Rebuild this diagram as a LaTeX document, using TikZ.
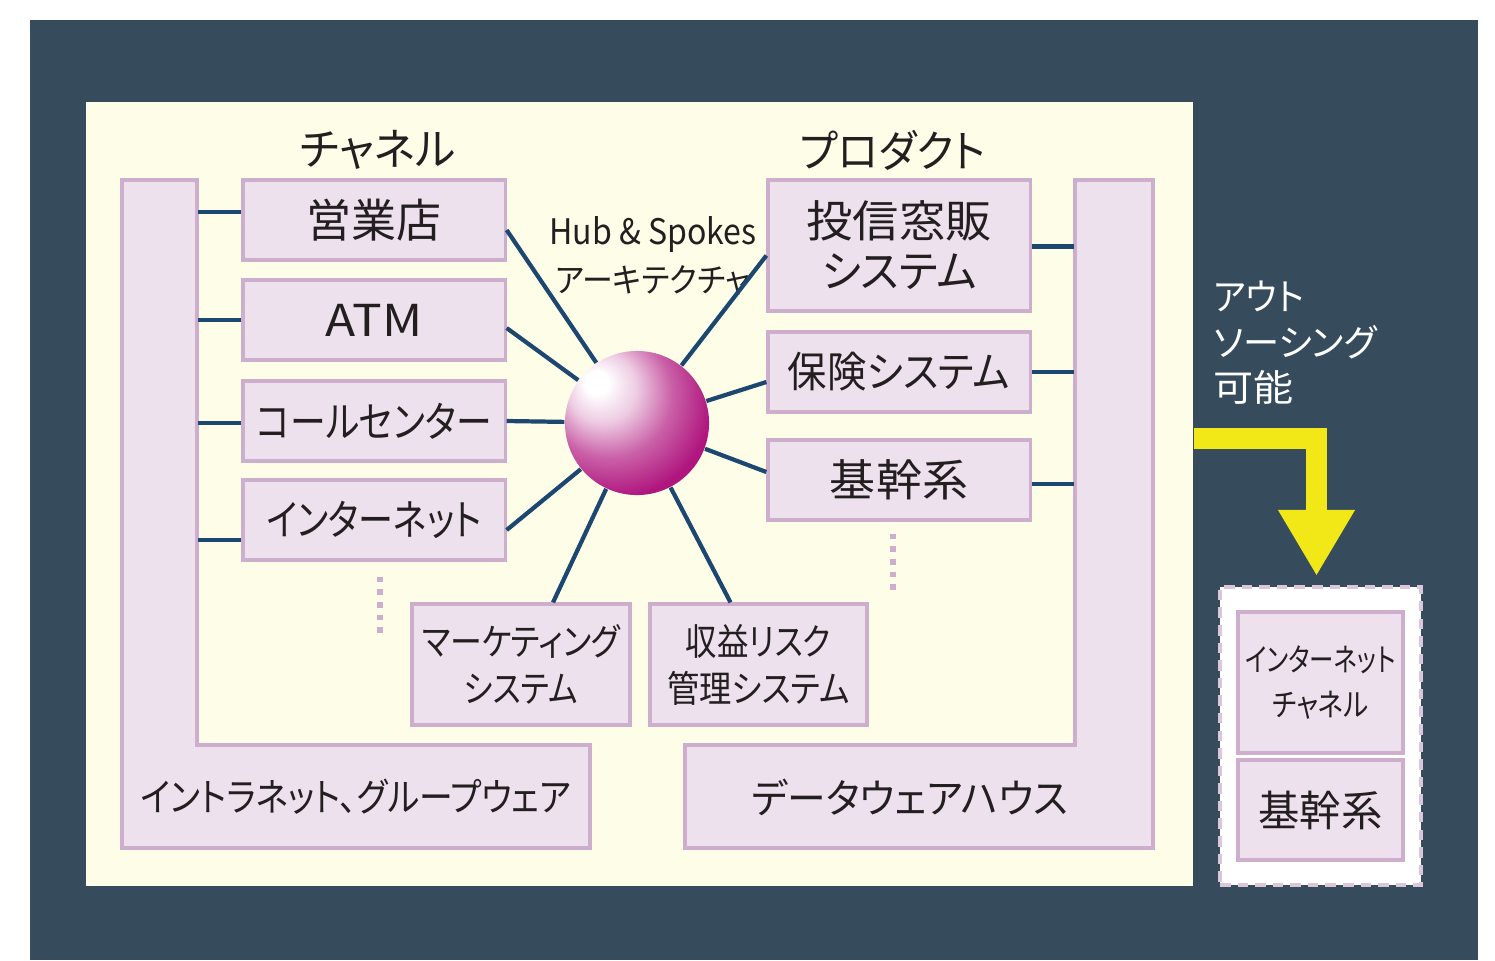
\documentclass[tikz,border=0pt]{standalone}
\usepackage{graphicx}
\usepackage{fontspec}
\setmainfont{Noto Sans CJK JP}[RawFeature=+palt]
\usetikzlibrary{fit,arrows.meta,calc}
\definecolor{lav}{HTML}{EEE1EE}
\definecolor{lavb}{HTML}{CDAECD}
\definecolor{cream}{HTML}{FEFDE8}
\definecolor{darkpanel}{HTML}{364C5C}
\definecolor{navy}{HTML}{1C4770}
\definecolor{ylw}{HTML}{F2E817}
\definecolor{hubmag}{HTML}{B0167E}
\definecolor{txt}{HTML}{231F20}
\newcommand\fitw[2]{\resizebox{#1cm}{\height}{#2}}
\newcommand\fs[2]{\fontsize{#1pt}{#2pt}\selectfont}
\pgfdeclareradialshading{hubshade}{\pgfqpoint{-15bp}{15bp}}{%
  color(0bp)=(white); color(4bp)=(white);
  color(12bp)=(hubmag!22!white); color(22bp)=(hubmag!68!white);
  color(33bp)=(hubmag); color(65bp)=(hubmag!88!black)}
\begin{document}
\begin{tikzpicture}[x=0.01cm,y=-0.01cm,
  box/.style={draw=lavb, fill=lav, line width=0.9pt, inner sep=0pt, text=txt, align=center},
  chbox/.style={box, minimum width=2.62cm, minimum height=0.80cm},
  link/.style={draw=navy, line width=1.2pt},
  spoke/.style={draw=navy, line width=1.2pt},
  dotsline/.style={draw=lavb, line width=1.6pt, dotted},
  lbl/.style={inner sep=0pt, text=txt, align=center}]
\useasboundingbox (0,0) rectangle (1495,960);
\fill[white] (0,0) rectangle (1495,960);
\fill[darkpanel] (30,20) rectangle (1478,960);
\node[fit={(86,102) (1193,886)}, inner sep=0pt, fill=cream] (cream) {};

% L-shaped buses
\filldraw[draw=lavb, fill=lav, line width=0.9pt] (122,180) -- (197,180) -- (197,745) -- (590,745) -- (590,848) -- (122,848) -- cycle;
\node[fit={(122,180) (197,745)}, inner sep=0pt] (lbar) {};
\node[lbl, font=\fs{11}{13}] (intra) at (356,797) {\fitw{4.30}{イントラネット、グループウェア}};

\filldraw[draw=lavb, fill=lav, line width=0.9pt] (1075,180) -- (1153,180) -- (1153,848) -- (685,848) -- (685,745) -- (1075,745) -- cycle;
\node[fit={(1075,180) (1153,745)}, inner sep=0pt] (rbar) {};
\node[lbl, font=\fs{11.5}{13}] (dwh) at (910,797) {\fitw{3.16}{データウェアハウス}};

% headers
\node[lbl, font=\fs{12.5}{14}] (chanhdr) at (378,150) {\fitw{1.55}{チャネル}};
\node[lbl, font=\fs{12.5}{14}] (prodhdr) at (893,150) {\fitw{1.85}{プロダクト}};

% channel boxes
\node[chbox, font=\fs{13}{15}] (eigyo) at (374,220) {\fitw{1.35}{営業店}};
\node[chbox, font=\fs{12.5}{15}] (atm) at (374,320) {\fitw{0.97}{ATM}};
\node[chbox, font=\fs{12}{15}] (call) at (374,421) {\fitw{2.35}{コールセンター}};
\node[chbox, font=\fs{12}{15}] (inet) at (374,520) {\fitw{2.15}{インターネット}};

% product boxes
\node[box, minimum width=2.62cm, minimum height=1.31cm, font=\fs{12.5}{14.2}] (toushin) at (899,245.5) {\fitw{1.85}{投信窓販}\\\fitw{1.55}{システム}};
\node[chbox, font=\fs{12}{15}] (hoken) at (899,372) {\fitw{2.22}{保険システム}};
\node[chbox, font=\fs{12.5}{15}] (kikan) at (899,480) {\fitw{1.38}{基幹系}};

% bottom boxes
\node[box, minimum width=2.18cm, minimum height=1.21cm, font=\fs{10.5}{13.4}] (mkt) at (521,664.5) {\fitw{1.98}{マーケティング}\\\fitw{1.14}{システム}};
\node[box, minimum width=2.17cm, minimum height=1.21cm, font=\fs{10.5}{13.4}] (risk) at (758.5,664.5) {\fitw{1.45}{収益リスク}\\\fitw{1.82}{管理システム}};

% hub
\node[circle, inner sep=0pt, minimum size=1.44cm, shade, shading=hubshade] (hub) at (637,423) {};
\node[lbl, font=\fs{10}{13.4}] (hublbl) at (653,256) {\fitw{2.07}{Hub \& Spokes}\\{\fs{9.5}{13.4}\fitw{1.95}{アーキテクチャ}}};

% spokes
\draw[spoke] (hub) -- ([yshift=-0.1cm]eigyo.east);
\draw[spoke] (hub) -- ([yshift=-0.08cm]atm.east);
\draw[spoke] (hub) -- (call.east);
\draw[spoke] (hub) -- ([yshift=-0.1cm]inet.east);
\draw[spoke] (hub) -- ([xshift=0.32cm]mkt.north);
\draw[spoke] (hub) -- ([xshift=-0.28cm]risk.north);
\draw[spoke] (hub) -- ([yshift=-0.1cm]toushin.west);
\draw[spoke] (hub) -- ([yshift=-0.1cm]hoken.west);
\draw[spoke] (hub) -- ([yshift=0.08cm]kikan.west);

% channel to intranet bus
\path ([yshift=0.08cm]eigyo.west) coordinate (c1)
      (atm.west) coordinate (c2)
      ([yshift=-0.02cm]call.west) coordinate (c3)
      ([yshift=-0.2cm]inet.west) coordinate (c4);
\draw[link] (c1) -- (c1 -| lbar.east);
\draw[link] (c2) -- (c2 -| lbar.east);
\draw[link] (c3) -- (c3 -| lbar.east);
\draw[link] (c4) -- (c4 -| lbar.east);

% products to DWH bus
\path ([yshift=-0.01cm]toushin.east) coordinate (p1)
      (hoken.east) coordinate (p2)
      ([yshift=-0.04cm]kikan.east) coordinate (p3);
\draw[link] (p1) -- (p1 -| rbar.west);
\draw[link] (p2) -- (p2 -| rbar.west);
\draw[link] (p3) -- (p3 -| rbar.west);

% continuation dots
\draw[dotsline] ([xshift=0.06cm,yshift=-0.15cm]inet.south) -- ++(0,58);
\draw[dotsline] ([xshift=-0.06cm,yshift=-0.12cm]kikan.south) -- ++(0,62);

% outsourcing
\node[minimum width=2.01cm, minimum height=2.98cm, inner sep=0pt, fill=white, draw=lavb!70!white, densely dashed, line width=1.1pt] (outbox) at (1320.5,736) {};
\node[box, minimum width=1.65cm, minimum height=1.41cm, font=\fs{9}{12.8}] (oinet) at (1320.5,682.5) {\fitw{1.50}{インターネット}\\\fitw{0.96}{チャネル}};
\node[box, minimum width=1.65cm, minimum height=1.00cm, font=\fs{12}{14}] (okikan) at (1320.5,810) {\fitw{1.24}{基幹系}};

\node[inner sep=0pt, align=left, anchor=north west, text=white, font=\fs{10.5}{13}] (outtxt) at (1213,280) {\fitw{0.90}{アウト}\\\fitw{1.63}{ソーシング}\\\fitw{0.80}{可能}};

\coordinate (ystart) at (cream.east |- 0,438);
\draw[ylw, line width=0.21cm, line join=miter, -{Triangle[width=0.72cm,length=0.66cm]}, shorten >=0.09cm] (ystart) -| ([xshift=-0.04cm]outbox.north);
\end{tikzpicture}
\end{document}
